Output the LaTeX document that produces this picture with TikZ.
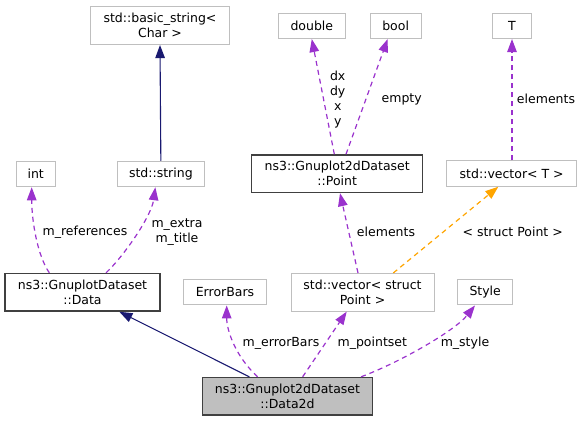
\documentclass[tikz,border=0pt]{standalone}
\usepackage{fontspec}
\setmainfont{DejaVu Sans}
\usetikzlibrary{positioning}
\usetikzlibrary{arrows.meta}
\definecolor{edgepurple}{HTML}{9A32CD}
\definecolor{edgeorange}{HTML}{FFA500}
\definecolor{edgenavy}{HTML}{191970}
\definecolor{boxgrey}{HTML}{BFBFBF}
\definecolor{boxdark}{HTML}{404040}

\begin{document}
\begin{tikzpicture}[x=1pt, y=-1pt, font=\fontsize{12.5}{15}\selectfont,
	extcls/.style={draw=boxgrey, line width=1pt, align=center, inner xsep=0pt, inner ysep=6.5pt, minimum height=25.5pt},
	doccls/.style={extcls, draw=boxdark, line width=1.3pt},
	usedby/.style={draw=edgepurple, line width=1.2pt, dash pattern=on 5pt off 4pt, -{Triangle[length=13pt,width=9.5pt]}},
	tmplinst/.style={usedby, draw=edgeorange},
	inherits/.style={draw=edgenavy, line width=1.1pt, -{Triangle[length=13pt,width=9.5pt]}},
	lbl/.style={align=center, inner sep=0pt}]
		\useasboundingbox (0,0) rectangle (583,423);
		\node [extcls, minimum width=138.7pt] at (160,25.7) (basicstr) {std::basic\_string<\\Char >};
		\node [extcls, minimum width=39.3pt] at (35.7,174) (intty) {int};
		\node [extcls, minimum width=87pt, right=61pt of intty] (stdstri) {std::string};
		\node [extcls, minimum width=67pt] at (311.8,25.8) (doubl) {double};
		\node [extcls, minimum width=50.7pt, right=24pt of doubl] (boolty) {bool};
		\node [extcls, minimum width=38.7pt] at (512,25.8) (tparam) {T};
		\node [doccls, minimum width=171pt] at (337.2,173.7) (pointst) {ns3::Gnuplot2dDataset\\::Point};
		\node [extcls, minimum width=130pt] at (511.7,173.5) (vectort) {std::vector< T >};
		\node [doccls, minimum width=155pt] at (82.5,292.3) (gdata) {ns3::GnuplotDataset\\::Data};
		\node [extcls, minimum width=83.4pt] at (225,292.2) (errbars) {ErrorBars};
		\node [extcls, minimum width=143pt] at (362.5,292.3) (vecpoint) {std::vector< struct\\Point >};
		\node [extcls, minimum width=55pt] at (485.2,292.2) (styl) {Style};
		\node [doccls, fill=boxgrey, minimum width=170.4pt] at (287.5,396.3) (data2d) {ns3::Gnuplot2dDataset\\::Data2d};
		\node [lbl] at (85,232.5) (lrefs) {m\_references};
		\node [lbl] at (177,232.5) (lextra) {m\_extra\\m\_title};
		\node [lbl] at (337.7,99.2) (lcoords) {dx\\dy\\x\\y};
		\node [lbl] at (401.7,99) (lempty) {empty};
		\node [lbl] at (546,99) (lelemt) {elements};
		\node [lbl] at (386,232.3) (lelemp) {elements};
		\node [lbl] at (512.7,232.3) (linst) {< struct Point >};
		\node [lbl] at (281,343.3) (lerrb) {m\_errorBars};
		\node [lbl] at (372.3,343.3) (lpts) {m\_pointset};
		\node [lbl] at (465,343.3) (lstyle) {m\_style};
		\draw [inherits] (stdstri.north) -- (basicstr.south);
		\draw [inherits] ([xshift=47.7pt]data2d.north west) -- ([xshift=115pt]gdata.south west);
		\draw [usedby] ([xshift=45pt]gdata.north west) .. controls +(-12,-17) and +(0,33) .. ([xshift=-4pt]intty.south);
		\draw [usedby] ([xshift=101.7pt]gdata.north west) .. controls +(18,-17) and +(-4,29) .. ([xshift=-5.5pt]stdstri.south);
		\draw [usedby] ([xshift=-2.9pt]pointst.north) -- (doubl.south);
		\draw [usedby] ([xshift=8.8pt]pointst.north) -- ([xshift=-8pt]boolty.south);
		\draw [usedby] ([xshift=0.3pt]vectort.north) -- (tparam.south);
		\draw [usedby] ([xshift=-4.5pt]vecpoint.north) -- ([xshift=2.8pt]pointst.south);
		\draw [tmplinst] ([xshift=30.8pt]vecpoint.north) -- ([xshift=-13.4pt]vectort.south);
		\draw [usedby] ([xshift=56pt]data2d.north west) .. controls +(-22,-20) and +(0,25) .. ([xshift=1.7pt]errbars.south);
		\draw [usedby] ([xshift=101pt]data2d.north west) -- ([xshift=-15.8pt]vecpoint.south);
		\draw [usedby] ([xshift=159.4pt]data2d.north west) .. controls +(40,-15) and +(-20,25) .. ([xshift=-10.2pt]styl.south);
		\end{tikzpicture}
\end{document}
